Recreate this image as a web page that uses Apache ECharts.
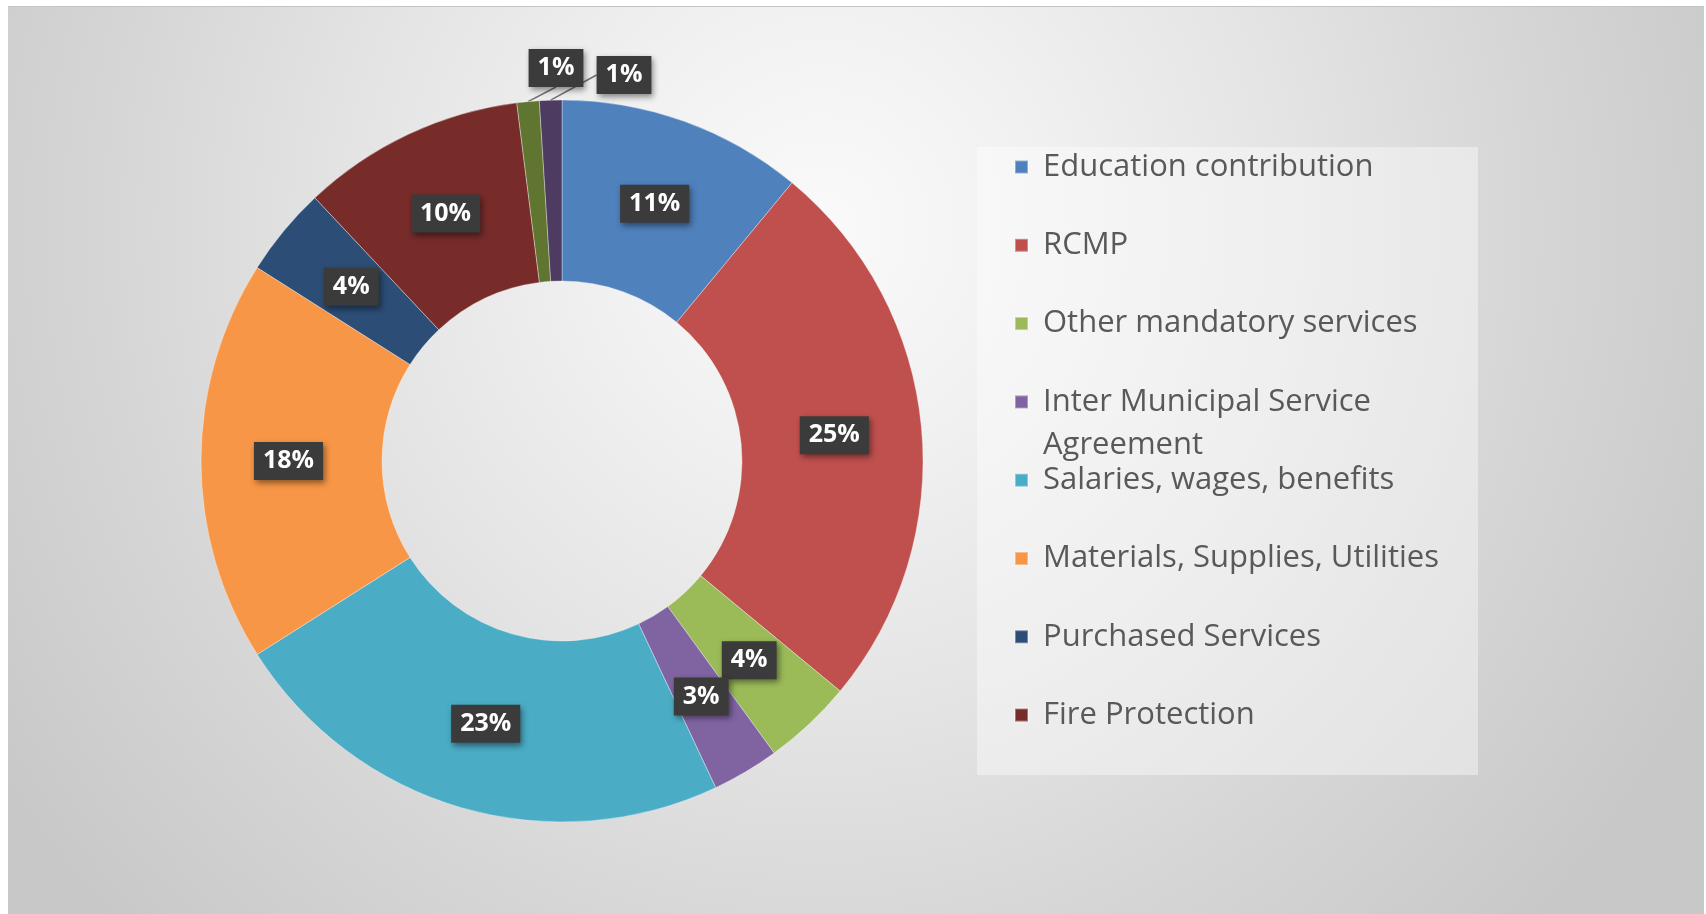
<!DOCTYPE html>
<html>
<head>
<meta charset="utf-8">
<title>Expenditure breakdown</title>
<script src="https://cdn.jsdelivr.net/npm/echarts@6/dist/echarts.min.js"></script>
<style>
  html, body { margin: 0; padding: 0; background: #ffffff; overflow: hidden; }
  #panel {
    position: absolute; left: 8px; top: 6px; width: 1696px; height: 920px;
    border-top: 1px solid #c4c4c4;
    background: radial-gradient(ellipse 58% 110% at 48% 24%,
      #fafafa 0%, #f1f1f1 22%, #e4e4e4 48%, #d6d6d6 72%, #c8c8c8 100%);
  }
  #chart { position: absolute; left: 0; top: 0; width: 1706px; height: 914px; }
</style>
</head>
<body>
<div id="panel"></div>
<div id="chart"></div>
<script>
// Expense categories, in the order they run clockwise from twelve o'clock
const categories = [
  'Education contribution',
  'RCMP',
  'Other mandatory services',
  'Inter Municipal Service Agreement',
  'Salaries, wages, benefits',
  'Materials, Supplies, Utilities',
  'Purchased Services',
  'Fire Protection',
  'Other (a)',
  'Other (b)'
];
// Share of the total, in percent
const shares = [11, 25, 4, 3, 23, 18, 4, 10, 1, 1];
// Only the first eight categories are listed in the key
const legendCount = 8;
// Key entry whose name runs onto a second line
const wrappedEntry = 3;

const palette = [
  '#4F81BD', '#C0504D', '#9BBB59', '#8064A2', '#4BACC6',
  '#F79646', '#2C4D75', '#772C2A', '#5F7530', '#4D3B62'
];

// Donut geometry
const center = [562, 461];
const radii = [180, 361];
// Key layout
const keyBox = { x: 977, y: 147, w: 501, h: 628 };
const keyLeft = 1014;
const keyFirstRow = 167;
const keyRowStep = 78.3;
const keyLine = 36;
const keyWrapLine = 43;

// Slices too thin to carry a label inside get a callout above the ring
const calloutSpots = { 8: [556, 68], 9: [624, 75] };

const chart = echarts.init(document.getElementById('chart'), null, { renderer: 'canvas' });

const seriesData = categories.map((name, i) => {
  const item = { name: name, value: shares[i], itemStyle: { color: palette[i] } };
  if (calloutSpots[i]) {
    item.label = { position: 'outside' };
    item.labelLine = { show: true, length: 10, length2: 0,
      lineStyle: { color: '#6f6f6f', width: 1.5 } };
  }
  return item;
});

// One key block per category so rows keep a fixed pitch even when a name wraps
const legends = categories.slice(0, legendCount).map((name, i) => {
  const rowCenter = keyFirstRow + i * keyRowStep;
  const wraps = i === wrappedEntry;
  const lh = wraps ? keyWrapLine : keyLine;
  const rows = wraps ? 3 : 1;
  return {
    data: [name],
    left: keyLeft,
    top: rowCenter - (rows * lh) / 2,
    orient: 'vertical',
    padding: 0,
    icon: 'rect',
    itemWidth: 13,
    itemHeight: 13,
    selectedMode: false,
    formatter: function (n) {
      return wraps ? '\n' + n.replace(/ (\S+)$/, '\n$1') : n;
    },
    textStyle: {
      color: '#595959',
      fontFamily: 'Open Sans',
      fontSize: 31,
      lineHeight: lh,
      padding: [0, 0, 0, 10]
    }
  };
});

chart.setOption({
  backgroundColor: 'transparent',
  animation: false,
  graphic: [{
    type: 'rect',
    z: 0,
    shape: { x: keyBox.x, y: keyBox.y, width: keyBox.w, height: keyBox.h },
    style: { fill: 'rgba(255,255,255,0.4)' }
  }],
  legend: legends,
  series: [{
    type: 'pie',
    center: center,
    radius: radii,
    startAngle: 90,
    clockwise: true,
    avoidLabelOverlap: false,
    data: seriesData,
    itemStyle: {
      borderColor: 'rgba(255,255,255,0.35)',
      borderWidth: 1
    },
    label: {
      show: true,
      position: 'inside',
      formatter: function (p) { return Math.round(p.percent) + '%'; },
      color: '#ffffff',
      fontFamily: 'Open Sans',
      fontWeight: 'bold',
      fontSize: 25,
      backgroundColor: '#3b3b3b',
      padding: [7, 9, 6, 9],
      shadowBlur: 6,
      shadowColor: 'rgba(0,0,0,0.45)',
      shadowOffsetX: 2,
      shadowOffsetY: 3
    },
    labelLine: { show: false },
    labelLayout: function (params) {
      const spot = calloutSpots[params.dataIndex];
      if (spot) {
        return { x: spot[0], y: spot[1], align: 'center', verticalAlign: 'middle' };
      }
      return {};
    },
    emphasis: { disabled: true }
  }]
});
</script>
</body>
</html>
